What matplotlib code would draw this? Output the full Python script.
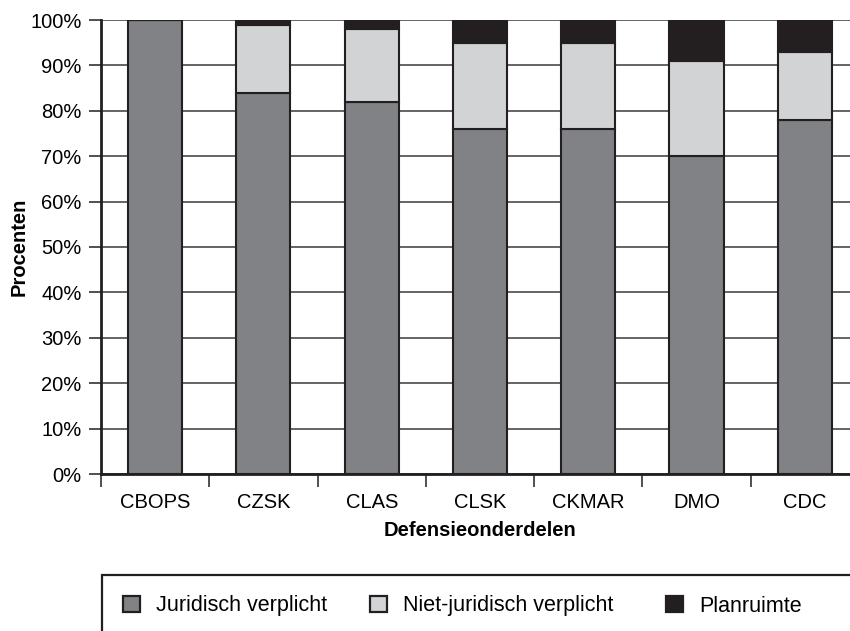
import matplotlib
matplotlib.use("Agg")
import matplotlib.pyplot as plt
from matplotlib.patches import Patch, Rectangle
from matplotlib.ticker import FuncFormatter, MultipleLocator, FixedLocator

categories = ["CBOPS", "CZSK", "CLAS", "CLSK", "CKMAR", "DMO", "CDC"]
juridisch = [100, 84, 82, 76, 76, 70, 78]
niet_juridisch = [0, 15, 16, 19, 19, 21, 15]
planruimte = [0, 1, 2, 5, 5, 9, 7]
series_labels = ["Juridisch verplicht", "Niet-juridisch verplicht", "Planruimte"]

DARK = "#231f20"
colors = ["#808285", "#d1d3d4", DARK]

plt.rcParams["font.family"] = ["Liberation Sans", "DejaVu Sans"]

fig = plt.figure(figsize=(8.5, 6.31), dpi=100)
W, H = 850, 631
ax = fig.add_axes([101 / W, 1 - 474 / H, (859 - 101) / W, (474 - 20) / H])

x = list(range(len(categories)))
bottoms = [0] * len(categories)
for values, color in zip([juridisch, niet_juridisch, planruimte], colors):
    ax.bar(x, values, width=0.5, bottom=bottoms, color=color,
           edgecolor=DARK, linewidth=1.5, zorder=3)
    bottoms = [b + v for b, v in zip(bottoms, values)]

ax.set_xlim(-0.5, len(categories) - 0.5)
ax.set_ylim(0, 100)
ax.yaxis.set_major_locator(MultipleLocator(10))
ax.yaxis.set_major_formatter(FuncFormatter(lambda v, _: f"{v:.0f}%"))
ax.grid(axis="y", color="#3a3a3a", linewidth=1.1, zorder=0)
ax.grid(axis="x", visible=False)

for side in ["top", "right"]:
    ax.spines[side].set_visible(False)
for side in ["left", "bottom"]:
    ax.spines[side].set_color(DARK)
    ax.spines[side].set_linewidth(2)
    ax.spines[side].set_zorder(4)

ax.set_xticks(x)
ax.set_xticklabels(categories, fontsize=14.5)
ax.tick_params(axis="x", length=0, pad=14)
ax.xaxis.set_minor_locator(FixedLocator([i - 0.5 for i in range(len(categories) + 1)]))
ax.tick_params(axis="x", which="minor", length=9, width=1.1, color=DARK, direction="out")
ax.tick_params(axis="y", length=9, width=1.1, color=DARK, pad=5, labelsize=14.5)

ax.set_ylabel("Procenten", fontsize=14.5, fontweight="bold", labelpad=1)
ax.set_xlabel("Defensieonderdelen", fontsize=14.5, fontweight="bold", labelpad=6)

# legend box runs off the right and bottom edge like the source
fig.patches.append(Rectangle((102 / W, -0.05), 1.0, (H - 575) / H + 0.05,
                             transform=fig.transFigure, fill=False,
                             edgecolor=DARK, linewidth=1.6))
# one legend per entry so the columns sit where the source puts them
for label, color, left in zip(series_labels, colors, [123, 370, 666]):
    handle = Patch(facecolor=color, edgecolor=DARK, linewidth=1.6)
    fig.legend([handle], [label], loc="center left",
               bbox_to_anchor=(left / W, 1 - 606 / H), frameon=False,
               borderpad=0, borderaxespad=0,
               handlelength=0.8, handleheight=0.8, handletextpad=0.75,
               prop={"size": 15.5})

fig.savefig("out.png", dpi=100)
